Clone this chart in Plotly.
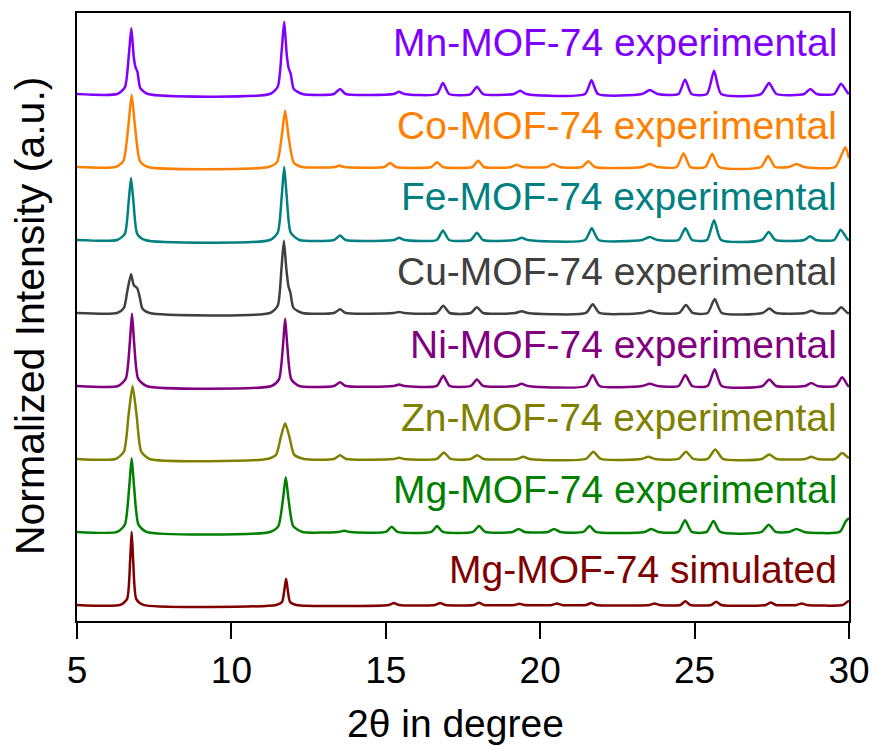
import plotly.graph_objects as go

# ---------------- data ----------------
# x: 2-theta (degree); y: normalized intensity of each pattern (before stacking)
mg_sim_pts = [(5.0,0),(6.40,0),(6.62,0.08),(6.72,0.60),(6.77,1.00),(6.82,0.60),(6.92,0.08),(7.15,0),
    (11.45,0),(11.64,0.04),(11.72,0.22),(11.77,0.36),(11.82,0.22),(11.90,0.04),(12.10,0),
    (15.10,0),(15.26,0.025),(15.42,0),(16.60,0),(16.76,0.025),(16.92,0),(17.86,0),(18.02,0.03),(18.18,0),
    (19.17,0),(19.33,0.015),(19.49,0),(20.38,0),(20.54,0.02),(20.70,0),(21.49,0),(21.65,0.025),(21.81,0),
    (23.54,0),(23.70,0.02),(23.86,0),(24.54,0),(24.70,0.05),(24.86,0),(25.54,0),(25.70,0.045),(25.86,0),
    (27.31,0),(27.47,0.035),(27.63,0),(28.31,0),(28.47,0.02),(28.63,0),(29.80,0),(29.97,0.05),(30.0,0.04)]

mg_exp_pts = [(5.0,0),(6.30,0),(6.55,0.10),(6.69,0.61),(6.77,1.01),(6.85,0.61),(6.99,0.10),(7.25,0),
    (11.25,0),(11.52,0.08),(11.67,0.45),(11.76,0.75),(11.85,0.45),(12.00,0.08),(12.30,0),
    (13.45,0),(13.65,0.015),(13.85,0),(15.00,0),(15.19,0.07),(15.38,0),(16.47,0),(16.66,0.08),(16.85,0),
    (17.82,0),(18.02,0.08),(18.22,0),(19.10,0),(19.30,0.04),(19.50,0),(20.25,0),(20.45,0.04),(20.65,0),
    (21.40,0),(21.60,0.08),(21.80,0),(23.38,0),(23.60,0.04),(23.82,0),(24.47,0),(24.69,0.16),(24.91,0),
    (25.39,0),(25.61,0.15),(25.83,0),(27.17,0),(27.40,0.10),(27.63,0),(28.05,0),(28.30,0.04),(28.55,0),
    (29.70,0),(29.90,0.15),(30.0,0.19)]

zn_pts = [(5.0,0),(6.25,0),(6.52,0.10),(6.67,0.60),(6.80,1.00),(6.93,0.60),(7.08,0.10),(7.35,0),
    (11.15,0),(11.45,0.06),(11.60,0.30),(11.74,0.49),(11.88,0.30),(12.03,0.06),(12.35,0),
    (13.32,0),(13.52,0.05),(13.72,0),(15.25,0),(15.43,0.015),(15.60,0),(16.65,0),(16.88,0.09),(17.10,0),
    (17.75,0),(17.96,0.05),(18.17,0),(19.25,0),(19.45,0.03),(19.65,0),(21.48,0),(21.72,0.10),(21.96,0),
    (23.28,0),(23.50,0.03),(23.72,0),(24.48,0),(24.72,0.10),(24.96,0),(25.42,0),(25.67,0.13),(25.92,0),
    (27.18,0),(27.42,0.06),(27.66,0),(28.58,0),(28.78,0.03),(28.98,0),(29.55,0),(29.78,0.08),(29.97,0.02),(30.0,0.02)]

ni_pts = [(5.0,0),(6.33,0),(6.58,0.10),(6.71,0.59),(6.78,0.99),(6.85,0.59),(6.98,0.10),(7.25,0),
    (11.30,0),(11.54,0.09),(11.67,0.55),(11.74,0.92),(11.81,0.55),(11.94,0.09),(12.20,0),
    (13.32,0),(13.52,0.05),(13.70,0),(15.25,0),(15.43,0.02),(15.60,0),(16.65,0),(16.86,0.14),(17.07,0),
    (17.75,0),(17.95,0.09),(18.15,0),(19.20,0),(19.40,0.03),(19.60,0),(21.48,0),(21.70,0.15),(21.92,0),
    (23.30,0),(23.55,0.03),(23.80,0),(24.48,0),(24.70,0.15),(24.92,0),(25.42,0),(25.65,0.23),(25.88,0),
    (27.20,0),(27.42,0.09),(27.64,0),(28.58,0),(28.78,0.04),(28.98,0),(29.57,0),(29.78,0.12),(29.97,0),(30.0,0)]

cu_pts = [(5.0,0),(6.30,0),(6.52,0.07),(6.63,0.30),(6.75,0.53),(6.84,0.38),(6.95,0.34),(7.03,0.22),(7.12,0.06),(7.35,0),
    (11.25,0),(11.50,0.10),(11.62,0.60),(11.70,0.99),(11.78,0.60),(11.85,0.36),(11.91,0.28),(12.01,0.07),(12.30,0),
    (13.32,0),(13.52,0.05),(13.70,0),(15.25,0),(15.43,0.015),(15.60,0),(16.65,0),(16.86,0.10),(17.07,0),
    (17.75,0),(17.95,0.08),(18.15,0),(19.20,0),(19.40,0.025),(19.60,0),(21.48,0),(21.70,0.12),(21.92,0),
    (23.30,0),(23.55,0.03),(23.80,0),(24.50,0),(24.72,0.11),(24.94,0),(25.42,0),(25.65,0.19),(25.88,0),
    (27.20,0),(27.42,0.06),(27.64,0),(28.58,0),(28.78,0.03),(28.98,0),(29.55,0),(29.75,0.08),(29.95,0),(30.0,0)]

fe_pts = [(5.0,0),(6.30,0),(6.55,0.085),(6.67,0.51),(6.75,0.85),(6.83,0.51),(6.95,0.085),(7.20,0),
    (11.25,0),(11.50,0.10),(11.63,0.60),(11.71,1.00),(11.79,0.60),(11.92,0.10),(12.20,0),
    (13.32,0),(13.52,0.06),(13.70,0),(15.25,0),(15.43,0.03),(15.60,0),(16.65,0),(16.85,0.13),(17.05,0),
    (17.75,0),(17.95,0.10),(18.15,0),(19.20,0),(19.40,0.03),(19.60,0),(21.45,0),(21.67,0.16),(21.89,0),
    (23.30,0),(23.55,0.04),(23.80,0),(24.48,0),(24.70,0.16),(24.92,0),(25.40,0),(25.63,0.27),(25.86,0),
    (27.18,0),(27.40,0.11),(27.62,0),(28.55,0),(28.74,0.05),(28.93,0),(29.52,0),(29.73,0.14),(29.95,0.01),(30.0,0)]

co_pts = [(5.0,0),(6.25,0),(6.50,0.08),(6.66,0.55),(6.77,0.99),(6.88,0.55),(7.04,0.08),(7.30,0),
    (11.20,0),(11.48,0.07),(11.63,0.42),(11.74,0.77),(11.85,0.42),(12.02,0.06),(12.30,0),
    (13.35,0),(13.50,0.02),(13.65,0),(14.95,0),(15.14,0.055),(15.33,0),(16.47,0),(16.66,0.065),(16.85,0),
    (17.80,0),(17.99,0.085),(18.18,0),(19.05,0),(19.24,0.03),(19.43,0),(20.22,0),(20.42,0.04),(20.62,0),
    (21.35,0),(21.56,0.08),(21.77,0),(23.30,0),(23.55,0.04),(23.80,0),(24.42,0),(24.64,0.19),(24.86,0),
    (25.35,0),(25.57,0.18),(25.79,0),(27.15,0),(27.38,0.15),(27.61,0),(28.05,0),(28.30,0.04),(28.55,0),
    (29.55,0),(29.88,0.27),(30.0,0.12)]

mn_pts = [(5.0,0),(6.30,0),(6.55,0.09),(6.68,0.54),(6.76,0.90),(6.84,0.50),(6.90,0.36),(6.96,0.30),(7.05,0.08),(7.30,0),
    (11.25,0),(11.50,0.10),(11.63,0.60),(11.71,0.99),(11.79,0.55),(11.85,0.36),(11.92,0.28),(12.02,0.07),(12.30,0),
    (13.32,0),(13.52,0.07),(13.70,0),(15.25,0),(15.43,0.03),(15.60,0),(16.65,0),(16.85,0.15),(17.05,0),
    (17.75,0),(17.95,0.10),(18.15,0),(19.15,0),(19.35,0.045),(19.55,0),(21.45,0),(21.66,0.19),(21.87,0),
    (23.30,0),(23.55,0.055),(23.80,0),(24.48,0),(24.69,0.20),(24.90,0),(25.40,0),(25.63,0.32),(25.86,0),
    (27.15,0),(27.41,0.15),(27.65,0),(28.55,0),(28.75,0.07),(28.95,0),(29.52,0),(29.74,0.14),(29.95,0.02),(30.0,0)]

series_names = ["Mg-MOF-74 simulated", "Mg-MOF-74 experimental", "Zn-MOF-74 experimental",
                "Ni-MOF-74 experimental", "Cu-MOF-74 experimental", "Fe-MOF-74 experimental",
                "Co-MOF-74 experimental", "Mn-MOF-74 experimental"]
series_points = [mg_sim_pts, mg_exp_pts, zn_pts, ni_pts, cu_pts, fe_pts, co_pts, mn_pts]
series_offsets = [0, 1, 2, 3, 4, 5, 6, 7]
label_levels = [0.48, 1.58, 2.57, 3.57, 4.57, 5.60, 6.57, 7.71]
series_colors = ["#800000", "#008000", "#808000", "#800080", "#404040", "#008080", "#FF8000", "#8000FF"]

x_ticks = [5, 10, 15, 20, 25, 30]

FONT = "Arial, Liberation Sans, sans-serif"

fig = go.Figure()
for name, pts, off, col in zip(series_names, series_points, series_offsets, series_colors):
    xs = [p[0] for p in pts]
    ys = [p[1] + off for p in pts]
    fig.add_trace(go.Scatter(x=xs, y=ys, mode="lines", name=name,
                             line=dict(color=col, width=2.5, shape="spline", smoothing=0.6),
                             showlegend=False))

annotations = []
for name, lvl, col in zip(series_names, label_levels, series_colors):
    annotations.append(dict(x=29.69, y=lvl, xref="x", yref="y", text=name, showarrow=False,
                            xanchor="right", yanchor="middle",
                            font=dict(family=FONT, size=39, color=col)))
annotations.append(dict(x=-0.061, y=0.503, xref="paper", yref="paper",
                        text="Normalized Intensity (a.u.)", textangle=-90, showarrow=False,
                        xanchor="center", yanchor="middle",
                        font=dict(family=FONT, size=41, color="black")))
annotations.append(dict(x=0.49, y=-0.168, xref="paper", yref="paper",
                        text="2θ in degree", showarrow=False,
                        xanchor="center", yanchor="middle",
                        font=dict(family=FONT, size=39, color="black")))

fig.update_layout(
    width=875, height=749,
    margin=dict(l=77, r=26, t=13, b=128, autoexpand=False),
    paper_bgcolor="white", plot_bgcolor="white",
    annotations=annotations,
    xaxis=dict(range=[5, 30], tickvals=x_ticks, ticktext=[str(t) for t in x_ticks],
               ticks="outside", ticklen=16, tickwidth=2, tickcolor="black",
               showline=True, linecolor="black", linewidth=2, mirror=True,
               showgrid=False, zeroline=False, automargin=False,
               tickfont=dict(family=FONT, size=37, color="black")),
    yaxis=dict(range=[-0.22, 8.11], showticklabels=False, ticks="",
               showline=True, linecolor="black", linewidth=2, mirror=True,
               showgrid=False, zeroline=False, automargin=False),
)

fig.write_html("out.html")
